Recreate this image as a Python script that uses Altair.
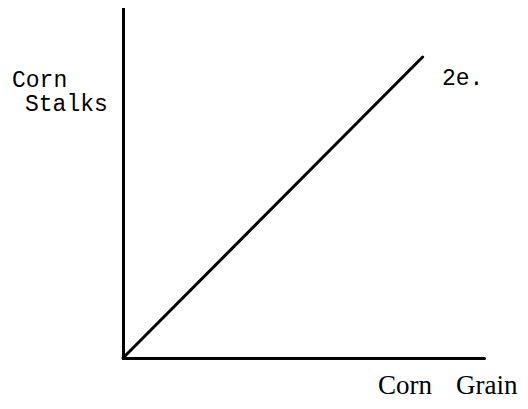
import altair as alt
import pandas as pd

# data
grain = [0.0, 8.3]
stalks = [0.0, 8.6]
series_label = ["2e."]
x_title_words = ["Corn", "Grain"]
y_title_lines = ["Corn", "Stalks"]

df = pd.DataFrame({"grain": grain, "stalks": stalks})

xs = alt.Scale(domain=[0, 10], nice=False, zero=True)
ys = alt.Scale(domain=[0, 10], nice=False, zero=True)

axis_style = dict(domain=True, domainColor="black", domainWidth=3, domainCap="round",
                  ticks=False, labels=False, grid=False, title=None)

line = alt.Chart(df).mark_line(color="black", strokeWidth=3, strokeCap="round").encode(
    x=alt.X("grain:Q", scale=xs, axis=alt.Axis(**axis_style)),
    y=alt.Y("stalks:Q", scale=ys, axis=alt.Axis(**axis_style)),
)

def label(txt, x, y, font, size, baseline="middle"):
    return alt.Chart(pd.DataFrame({"t": [txt]})).mark_text(
        font=font, fontSize=size, color="black", align="left", baseline=baseline
    ).encode(text="t:N", x=alt.value(x), y=alt.value(y))

mono = "Liberation Mono"
serif = "Liberation Serif"

layers = [
    line,
    label(y_title_lines[0], -111, 72, mono, 23),
    label(y_title_lines[1], -98, 96, mono, 23),
    label(series_label[0], 319, 70, mono, 23),
    label(x_title_words[0], 255, 386, serif, 27, "alphabetic"),
    label(x_title_words[1], 333, 386, serif, 27, "alphabetic"),
]

chart = alt.layer(*layers).properties(
    width=361, height=350,
    background="white",
    autosize=alt.AutoSizeParams(type="none"),
    padding={"left": 115, "top": 0, "right": 36, "bottom": 43},
).configure_view(stroke=None)

chart.save("out.html", embed_options={"renderer": "svg", "actions": False})
